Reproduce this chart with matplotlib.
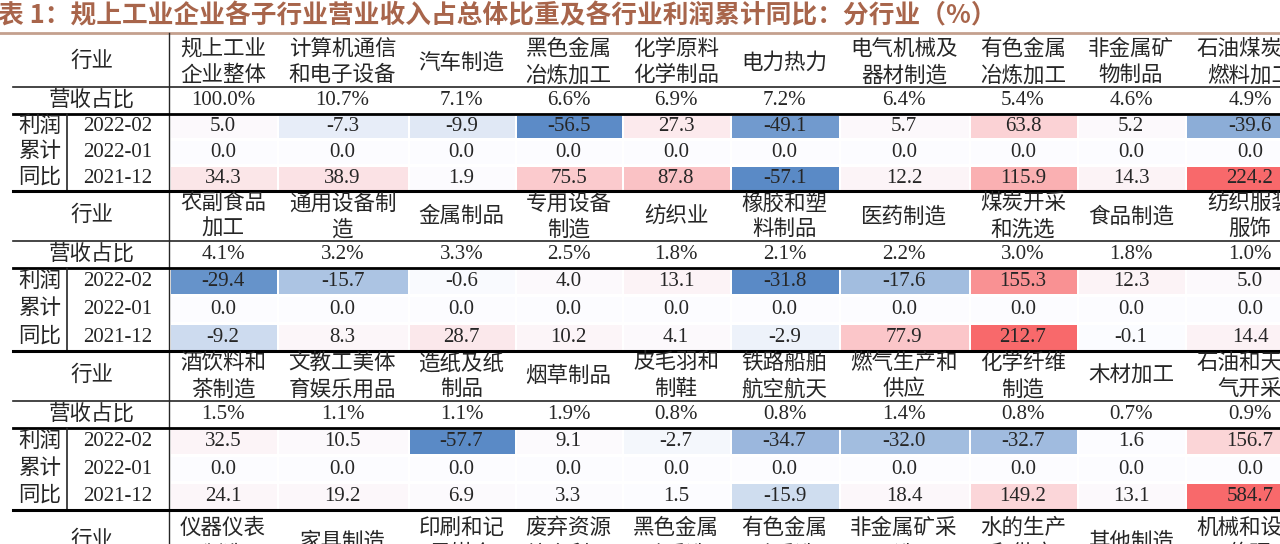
import matplotlib
matplotlib.use("Agg")
import matplotlib.pyplot as plt
from matplotlib.patches import Rectangle

title = "表 1：规上工业企业各子行业营业收入占总体比重及各行业利润累计同比：分行业（%）"
months = ["2022-02", "2022-01", "2021-12"]
profit_label = ["利润", "累计", "同比"]

names1 = ["规上工业\n企业整体", "计算机通信\n和电子设备", "汽车制造", "黑色金属\n冶炼加工", "化学原料\n化学制品",
          "电力热力", "电气机械及\n器材制造", "有色金属\n冶炼加工", "非金属矿\n物制品", "石油煤炭及\n燃料加工"]
share1 = [100.0, 10.7, 7.1, 6.6, 6.9, 7.2, 6.4, 5.4, 4.6, 4.9]
feb1 = [5.0, -7.3, -9.9, -56.5, 27.3, -49.1, 5.7, 63.8, 5.2, -39.6]
jan1 = [0.0] * 10
dec1 = [34.3, 38.9, 1.9, 75.5, 87.8, -57.1, 12.2, 115.9, 14.3, 224.2]

names2 = ["农副食品\n加工", "通用设备制\n造", "金属制品", "专用设备\n制造", "纺织业",
          "橡胶和塑\n料制品", "医药制造", "煤炭开采\n和洗选", "食品制造", "纺织服装\n服饰"]
share2 = [4.1, 3.2, 3.3, 2.5, 1.8, 2.1, 2.2, 3.0, 1.8, 1.0]
feb2 = [-29.4, -15.7, -0.6, 4.0, 13.1, -31.8, -17.6, 155.3, 12.3, 5.0]
jan2 = [0.0] * 10
dec2 = [-9.2, 8.3, 28.7, 10.2, 4.1, -2.9, 77.9, 212.7, -0.1, 14.4]

names3 = ["酒饮料和\n茶制造", "文教工美体\n育娱乐用品", "造纸及纸\n制品", "烟草制品", "皮毛羽和\n制鞋",
          "铁路船舶\n航空航天", "燃气生产和\n供应", "化学纤维\n制造", "木材加工", "石油和天然\n气开采"]
share3 = [1.5, 1.1, 1.1, 1.9, 0.8, 0.8, 1.4, 0.8, 0.7, 0.9]
feb3 = [32.5, 10.5, -57.7, 9.1, -2.7, -34.7, -32.0, -32.7, 1.6, 156.7]
jan3 = [0.0] * 10
dec3 = [24.1, 19.2, 6.9, 3.3, 1.5, -15.9, 18.4, 149.2, 13.1, 584.7]

names4 = ["仪器仪表\n制造", "家具制造", "印刷和记\n录媒介", "废弃资源\n综合利用", "黑色金属\n矿采选",
          "有色金属\n矿采选", "非金属矿采\n选", "水的生产\n和供应", "其他制造", "机械和设备\n修理"]

blocks = [
    (names1, share1, [feb1, jan1, dec1]),
    (names2, share2, [feb2, jan2, dec2]),
    (names3, share3, [feb3, jan3, dec3]),
    (names4, None, None),
]

# layout in pixels
col_edges = [169, 277, 408, 515, 622, 730, 839, 969, 1077, 1185, 1315]
block_tops = [37, 191, 351, 510]
block_bottoms = [191, 351, 510, 600]
head_h = 50
share_h = 27

cn = ["Noto Sans CJK SC"]
serif = ["Liberation Serif", "Noto Sans CJK SC"]
ink = "#262626"

WHITE = (252, 252, 255)
RED = (248, 105, 107)
BLUE = (90, 138, 198)


def cell_color(v, lo, hi):
    if v >= 0:
        t, c = (v / hi if hi > 0 else 0), RED
    else:
        t, c = v / lo, BLUE
    return tuple((w + (cc - w) * t) / 255 for w, cc in zip(WHITE, c))


fig = plt.figure(figsize=(12.8, 5.44), dpi=100)
ax = fig.add_axes([0, 0, 1, 1])
ax.set_xlim(0, 1280)
ax.set_ylim(544, 0)
ax.axis("off")

ax.text(-2, 16, title, fontsize=18.5, fontweight="bold", color="#A8654B",
        family=cn, ha="left", va="center")
ax.plot([0, 1280], [33, 33], color="#C4A08E", lw=2)
ax.plot([col_edges[0]] * 2, [33, 544], color=ink, lw=1)

for b, (names, share, rows) in enumerate(blocks):
    top = block_tops[b]
    hy = top + head_h / 2 + (6 if share is None else 0)
    ax.text(92, hy, "行业", fontsize=15.5, family=serif, color=ink, ha="center", va="center")
    for j, nm in enumerate(names):
        cx = (col_edges[j] + col_edges[j + 1]) / 2
        parts = nm.split("\n")
        if len(parts) == 1:
            ax.text(cx, hy + 1, parts[0], fontsize=15.5, family=serif, color=ink, ha="center", va="center")
        else:
            ax.text(cx, hy - 12, parts[0], fontsize=15.5, family=serif, color=ink, ha="center", va="center")
            ax.text(cx, hy + 14, parts[1], fontsize=15.5, family=serif, color=ink, ha="center", va="center")
    if share is None:
        continue
    line1 = top + head_h
    ax.plot([13, 1280], [line1, line1], color=ink, lw=1.2)
    sy = line1 + share_h / 2
    ax.text(92, sy, "营收占比", fontsize=15.5, family=serif, color=ink, ha="center", va="center")
    for j, s in enumerate(share):
        cx = (col_edges[j] + col_edges[j + 1]) / 2
        ax.text(cx, sy, f"{s:.1f}%", fontsize=15, family=serif, color=ink, ha="center", va="center")
    line2 = line1 + share_h
    ax.plot([13, 1280], [line2, line2], color="black", lw=2)
    bottom = block_bottoms[b]
    rh = (bottom - line2) / 3
    allv = [v for r in rows for v in r]
    lo, hi = min(allv), max(allv)
    for i, r in enumerate(rows):
        y0 = line2 + i * rh
        cy = y0 + rh / 2
        for j, v in enumerate(r):
            x0 = col_edges[j] + 1.5
            ax.add_patch(Rectangle((x0, y0 + 1.5), col_edges[j + 1] - x0, rh - 3,
                                   facecolor=cell_color(v, lo, hi), edgecolor="none"))
            cx = (col_edges[j] + col_edges[j + 1]) / 2
            ax.text(cx, cy, f"{v:.1f}", fontsize=15, family=serif, color=ink, ha="center", va="center")
        ax.text(40, cy, profit_label[i], fontsize=15.5, family=serif, color=ink, ha="center", va="center")
        ax.text(118, cy, months[i], fontsize=15, family=serif, color=ink, ha="center", va="center")
    ax.plot([67, 67], [line2, bottom], color=ink, lw=1.2)
    ax.plot([13, 1280], [bottom, bottom], color="black", lw=2.2)

fig.savefig("out.png", dpi=100)
